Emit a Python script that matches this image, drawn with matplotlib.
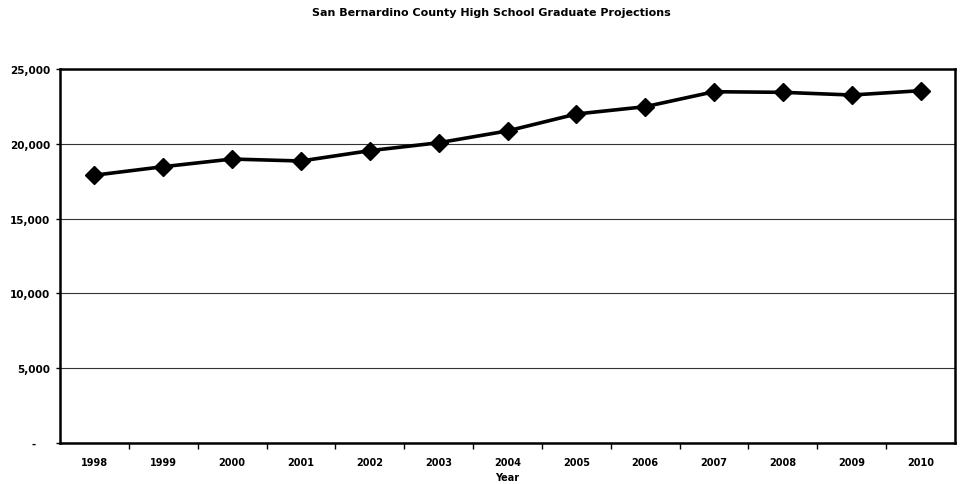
import numpy as np
import matplotlib.pyplot as plt
import matplotlib.ticker as mticker

years = ['1998', '1999', '2000', '2001', '2002', '2003', '2004',
         '2005', '2006', '2007', '2008', '2009', '2010']
graduates = [17900, 18470, 18980, 18850, 19540, 20070, 20860,
             21990, 22480, 23480, 23440, 23260, 23550]
y_ticks = [0, 5000, 10000, 15000, 20000, 25000]
y_labels = ['-    ', '5,000', '10,000', '15,000', '20,000', '25,000']

fig = plt.figure(figsize=(9.63, 4.85), dpi=100)
ax = fig.add_axes([0.0623, 0.0845, 0.9294, 0.7712])

x = np.arange(len(years))
ax.plot(x, graduates, color='black', linewidth=2.6, marker='D',
        markersize=9, markerfacecolor='black', markeredgecolor='black',
        zorder=3)

ax.set_xlim(-0.5, len(years) - 0.5)
ax.set_ylim(0, 25000)

# category labels centred, tick marks between categories
ax.set_xticks(x)
ax.set_xticklabels(years, fontsize=7, fontweight='bold')
ax.xaxis.set_minor_locator(mticker.FixedLocator(np.arange(0.5, len(years) - 1, 1)))
ax.tick_params(axis='x', which='major', length=0, pad=10)
ax.tick_params(axis='x', which='minor', length=4, width=1, direction='out')

ax.set_yticks(y_ticks)
ax.set_yticklabels(y_labels, fontsize=7.5, fontweight='bold')
ax.tick_params(axis='y', length=3, width=1, direction='out', pad=4)

ax.yaxis.grid(True, color='#333333', linewidth=0.8)
ax.set_axisbelow(True)

for s in ax.spines.values():
    s.set_linewidth(1.8)
    s.set_color('black')

ax.set_xlabel('Year', fontsize=7, fontweight='bold', labelpad=4)
fig.suptitle('San Bernardino County High School Graduate Projections',
             fontsize=8, fontweight='bold', x=0.51, y=0.983)

fig.savefig('out.png', dpi=100)
